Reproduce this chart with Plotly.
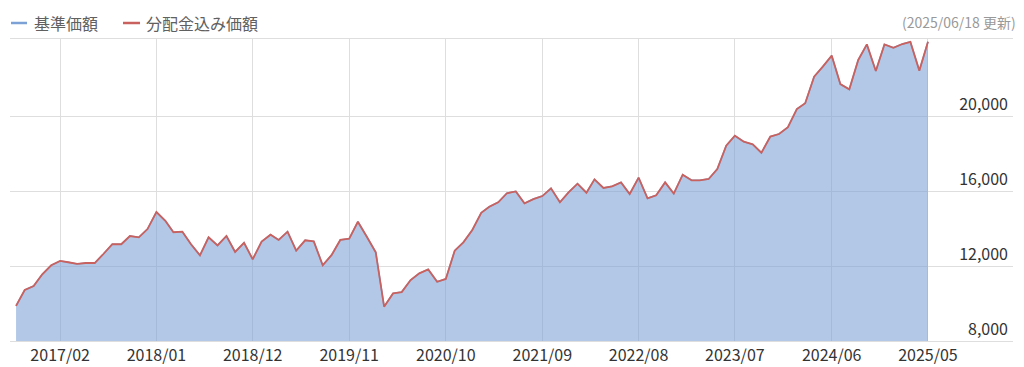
import pandas as pd
import plotly.graph_objects as go

# ---- data ----
months = pd.date_range("2016-09-01", "2025-05-01", freq="MS")
nav = [
    9870, 10720, 10930, 11560,
    12040, 12270, 12200, 12110, 12160, 12160, 12640, 13160, 13160, 13600, 13530, 13970,
    14880, 14410, 13800, 13830, 13160, 12570, 13530, 13100, 13600, 12750, 13240, 12360,
    13300, 13670, 13390, 13830, 12820, 13370, 13310, 12040, 12590, 13390, 13460, 14360,
    13560, 12730, 9830, 10540, 10610, 11250, 11610, 11820, 11160, 11310, 12820, 13260,
    13920, 14840, 15160, 15400, 15880, 15980, 15340, 15570, 15730, 16140, 15400, 15930,
    16390, 15910, 16620, 16160, 16250, 16460, 15840, 16710, 15610, 15770, 16460, 15860,
    16870, 16570, 16570, 16640, 17170, 18420, 18950, 18630, 18490, 18040, 18900, 19040,
    19400, 20370, 20680, 22100, 22630, 23220, 21700, 21420, 22990, 23820, 22400, 23820,
    23640, 23840, 23950, 22420, 23960,
]
nav_with_dist = list(nav)  # 分配金込み価額 (same as 基準価額, no distributions)

series_names = ["基準価額", "分配金込み価額"]
x_tick_dates = ["2017-02-01", "2018-01-01", "2018-12-01", "2019-11-01", "2020-10-01",
                "2021-09-01", "2022-08-01", "2023-07-01", "2024-06-01", "2025-05-01"]
x_tick_labels = ["2017/02", "2018/01", "2018/12", "2019/11", "2020/10",
                 "2021/09", "2022/08", "2023/07", "2024/06", "2025/05"]
y_tick_vals = [8000, 12000, 16000, 20000]
y_tick_labels = ["8,000", "12,000", "16,000", "20,000"]
update_text = "(2025/06/18 更新)"

BLUE = "#7ca1d6"
RED = "#c9625f"
FONT = "Noto Sans CJK JP"

fig = go.Figure()
fig.add_trace(go.Scatter(
    x=months, y=nav, name=series_names[0], mode="lines",
    line=dict(color=BLUE, width=1.5), fill="tozeroy",
    fillcolor="rgba(124,161,214,0.58)", showlegend=False,
))
fig.add_trace(go.Scatter(
    x=months, y=nav_with_dist, name=series_names[1], mode="lines",
    line=dict(color=RED, width=1.8), showlegend=False,
))

# the page body has an 8px margin, so the figure is placed at (8, 8)
OFF = 8
W, H = 1024 - OFF, 367 - OFF
ml, mr, mt, mb = 10 - OFF, 11, 39 - OFF, 26
pw = W - ml - mr
ph = H - mt - mb

def px_x(px):
    return (px - OFF - ml) / pw

def px_y(py):
    return (H - mb - (py - OFF)) / ph

annotations = [
    dict(text=series_names[0], x=px_x(32), y=px_y(23), xanchor="left", yanchor="middle"),
    dict(text=series_names[1], x=px_x(144), y=px_y(23), xanchor="left", yanchor="middle"),
]
for a in annotations:
    a.update(xref="paper", yref="paper", showarrow=False,
             font=dict(family=FONT, size=16, color="#606060"))
annotations.append(dict(text=update_text, xref="paper", yref="paper",
                        x=px_x(1018), y=px_y(22), xanchor="right", yanchor="middle",
                        showarrow=False, font=dict(family=FONT, size=14, color="#999999")))

shapes = [
    dict(type="line", xref="paper", yref="paper", x0=px_x(11), x1=px_x(27),
         y0=px_y(23), y1=px_y(23), line=dict(color=BLUE, width=2.5)),
    dict(type="line", xref="paper", yref="paper", x0=px_x(123), x1=px_x(140),
         y0=px_y(23), y1=px_y(23), line=dict(color=RED, width=2.5)),
]

fig.update_layout(
    width=W, height=H,
    margin=dict(l=ml, r=mr, t=mt, b=mb, pad=0, autoexpand=False),
    paper_bgcolor="white", plot_bgcolor="white",
    font=dict(family=FONT, size=16, color="#333333"),
    annotations=annotations, shapes=shapes,
    showlegend=False,
    xaxis=dict(
        range=["2016-08-11", "2026-02-20"],
        tickvals=x_tick_dates, ticktext=x_tick_labels,
        showgrid=True, gridcolor="#dedede", gridwidth=1,
        showline=True, linecolor="#dedede", linewidth=1, mirror=True,
        ticks="", tickfont=dict(family=FONT, size=16, color="#333333"),
        zeroline=False, fixedrange=True, automargin=False,
    ),
    yaxis=dict(
        range=[8000, 24107], side="right",
        tickvals=y_tick_vals, ticktext=y_tick_labels,
        ticklabelposition="inside top", ticklabelstandoff=2,
        showgrid=True, gridcolor="#dedede", gridwidth=1,
        showline=False, ticks="", zeroline=False,
        tickfont=dict(family=FONT, size=16, color="#333333"),
        fixedrange=True, automargin=False,
    ),
)

fig.write_html("out.html")
